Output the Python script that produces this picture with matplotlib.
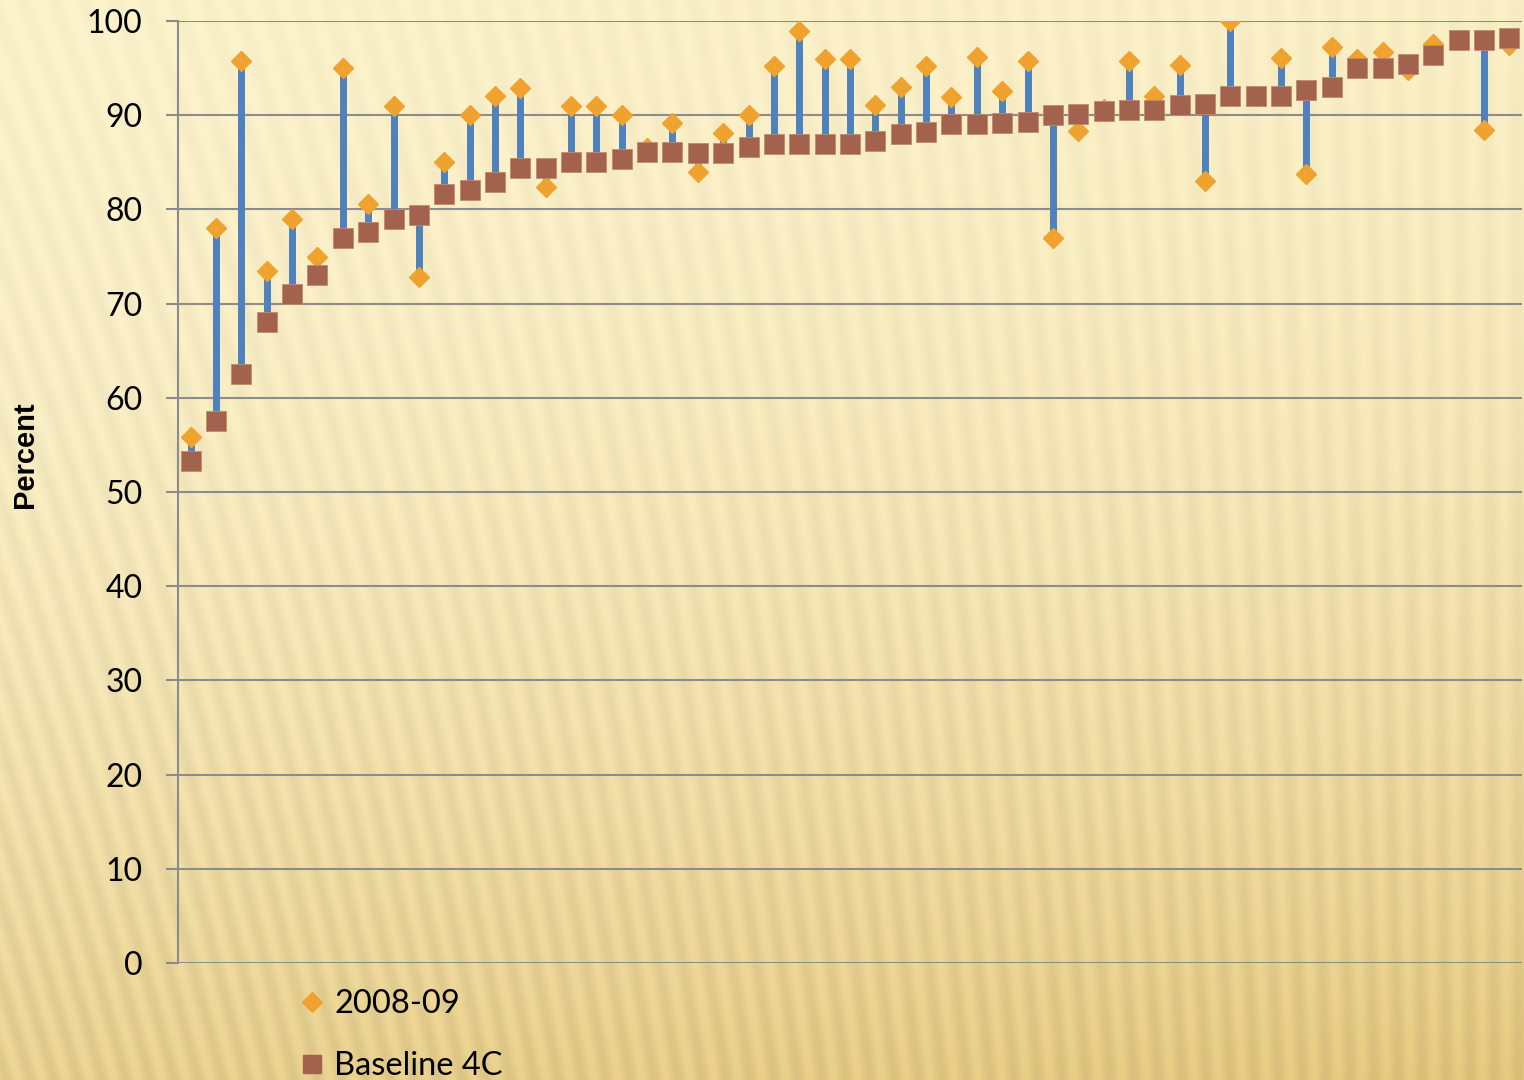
import numpy as np
import matplotlib
matplotlib.use("Agg")
import matplotlib.pyplot as plt
from matplotlib.lines import Line2D

# values (53 schools / sites, sorted by baseline)
baseline_4c = [53.3, 57.5, 62.5, 68.0, 71.0, 73.0, 77.0, 77.6, 79.0, 79.4,
               81.6, 82.1, 82.9, 84.4, 84.4, 85.0, 85.0, 85.4, 86.1, 86.1,
               86.0, 86.0, 86.6, 86.9, 86.9, 86.9, 86.9, 87.3, 88.0, 88.2,
               89.1, 89.1, 89.2, 89.3, 90.0, 90.1, 90.4, 90.5, 90.5, 91.1,
               91.2, 92.0, 92.0, 92.0, 92.7, 93.0, 95.0, 95.0, 95.4, 96.4,
               98.0, 98.0, 98.2]
y2008_09 = [55.8, 78.0, 95.8, 73.5, 79.0, 75.0, 95.0, 80.6, 91.0, 72.8,
            85.0, 90.0, 92.0, 92.9, 82.4, 91.0, 91.0, 90.0, 86.5, 89.2,
            84.0, 88.1, 90.0, 95.2, 98.9, 96.0, 96.0, 91.1, 93.0, 95.2,
            91.9, 96.2, 92.6, 95.8, 77.0, 88.3, 90.7, 95.8, 92.0, 95.3,
            83.0, 100.0, 92.0, 96.1, 83.8, 97.2, 96.0, 96.7, 94.8, 97.6,
            98.0, 88.4, 97.4]
y_ticks = list(range(0, 101, 10))

ORANGE = "#F0A22E"
BROWN = "#A3624D"
BLUE = "#4F81BD"
GRID = "#8C8C8C"

W, H = 1524, 1080
fig = plt.figure(figsize=(W / 100, H / 100), dpi=100)

# -------------------------------------------------------------------
# background: golden gradient with faint slanted stripes
# -------------------------------------------------------------------
yy, xx = np.mgrid[0:H, 0:W].astype(float)
t = np.clip(0.75 * (yy / H) ** 2.2 + 0.18 * (xx / W) * (yy / H) + 0.08 * (xx / W), 0, 1)
light = np.array([253, 243, 204]) / 255
dark = np.array([232, 203, 128]) / 255
img = light[None, None, :] * (1 - t[..., None]) + dark[None, None, :] * t[..., None]
phase = (xx + 0.3 * (1 - xx / W) * (H - yy)) / 24.0
stripe = 0.5 + 0.5 * np.sin(2 * np.pi * phase)
amp = 0.02 + 0.045 * (yy / H)
img = np.clip(img * (1 - amp[..., None] * stripe[..., None]), 0, 1)

bg = fig.add_axes([0, 0, 1, 1], zorder=0)
bg.imshow(img, aspect="auto", interpolation="bilinear")
bg.axis("off")

# -------------------------------------------------------------------
# main chart
# -------------------------------------------------------------------
ax = fig.add_axes([178 / W, 1 - 963 / H, 1344 / W, 942 / H], zorder=1)
ax.set_facecolor("none")

x = np.arange(1, len(baseline_4c) + 1)
ax.vlines(x, baseline_4c, y2008_09, color=BLUE, lw=5, zorder=3)
ax.plot(x, y2008_09, "D", color=ORANGE, ms=10, mec=ORANGE, zorder=4)
ax.plot(x, baseline_4c, "s", color=BROWN, ms=14, mec="#C08A70", mew=0.6, zorder=5)

ax.set_xlim(0.5, len(x) + 0.5)
ax.set_ylim(0, 100)
ax.set_yticks(y_ticks)
ax.set_xticks([])
ax.grid(axis="y", color=GRID, lw=1.5)
ax.set_axisbelow(True)
for side in ["top", "right", "bottom"]:
    ax.spines[side].set_visible(False)
ax.spines["left"].set_color(GRID)
ax.spines["left"].set_linewidth(1.5)
ax.tick_params(axis="y", length=8.6, width=1.5, color=GRID, pad=17,
               labelsize=23, labelcolor="black")
for lab in ax.get_yticklabels():
    lab.set_family("Lato")

fig.text(25 / W, 1 - 455 / H, "Percent", rotation=90, ha="center", va="center",
         fontsize=21, fontweight="bold", family="Liberation Sans")

handles = [
    Line2D([0], [0], marker="D", ls="none", color=ORANGE, ms=10),
    Line2D([0], [0], marker="s", ls="none", color=BROWN, ms=13),
]
fig.legend(handles, ["2008-09", "Baseline 4C"], loc="upper left",
           bbox_to_anchor=(287 / W, 1 - 973 / H), frameon=False, borderpad=0,
           handlelength=0.55, handletextpad=0.4, labelspacing=0.98,
           prop={"family": "Lato", "size": 23.5})

fig.savefig("out.png", dpi=100)
